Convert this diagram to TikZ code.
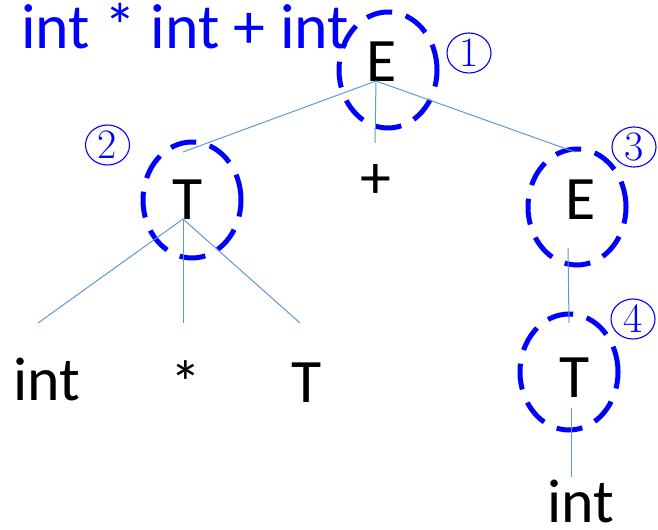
\documentclass[tikz,border=0pt]{standalone}
\usepackage{fontspec}
\newfontfamily\calfont{Carlito}
\usetikzlibrary{shapes.geometric}
\definecolor{edgeblue}{RGB}{91,155,213}
\definecolor{ringblue}{RGB}{0,0,255}
\tikzset{
  sym/.style={font=\calfont\fontsize{62}{70}\selectfont, inner sep=0pt, anchor=base},
  title/.style={font=\calfont\fontsize{64}{70}\selectfont, inner sep=0pt, text=ringblue, anchor=base west},
  ring/.style={ellipse, draw=ringblue, line width=5bp, dash pattern=on 26bp off 14bp, minimum width=98bp, minimum height=116bp, inner sep=0pt},
  num/.style={ellipse, draw=ringblue, line width=1.1bp, text=ringblue, minimum width=44bp, minimum height=40bp, inner sep=0pt, font=\fontsize{42}{42}\selectfont},
  edge/.style={draw=edgeblue, line width=1bp}
}
\begin{document}
\begin{tikzpicture}[x=1bp,y=-1bp]
\useasboundingbox (0,0) rectangle (658,530);
% title
\node[title] (title) at (21,49) {int * int + int};
% rings
\node[ring] (r1) at (388,70) {};
\node[ring] (r2) at (192,200) {};
\node[ring] (r3) at (577,207) {};
\node[ring] (r4) at (569,372) {};
% symbols
\node[sym] (E1) at (382,82) {E};
\node[sym] (T2) at (188,220) {T};
\node[sym] (plus) at (376,199) {+};
\node[sym] (E3) at (581,220) {E};
\node[sym] (int1) at (46.5,400) {int};
\node[sym] (star) at (186,404) {*};
\node[sym] (T5) at (307,402) {T};
\node[sym] (T4) at (575,397) {T};
\node[sym] (int2) at (580.5,522) {int};
% circled numbers
\node[num] (n1) at (469,53) {1};
\node[num] (n2) at (107.5,145) {2};
\node[num] (n3) at (634,147) {3};
\node[num] (n4) at (633,319) {4};
% connector end points
\coordinate (E1b) at (376,81);
\coordinate (T2t) at (183,152);
\coordinate (plust) at (375,143);
\coordinate (E3t) at (575,152);
\coordinate (T2b) at (183,219);
\coordinate (int1t) at (38,323);
\coordinate (start) at (183,323);
\coordinate (T5t) at (300,323);
\coordinate (E3b) at (568,248);
\coordinate (T4t) at (569,323);
\coordinate (T4b) at (571,408);
\coordinate (int2t) at (571,477);
% connectors
\draw[edge] (E1b) -- (T2t);
\draw[edge] (E1b) -- (plust);
\draw[edge] (E1b) -- (E3t);
\draw[edge] (T2b) -- (int1t);
\draw[edge] (T2b) -- (start);
\draw[edge] (T2b) -- (T5t);
\draw[edge] (E3b) -- (T4t);
\draw[edge] (T4b) -- (int2t);
\end{tikzpicture}
\end{document}
